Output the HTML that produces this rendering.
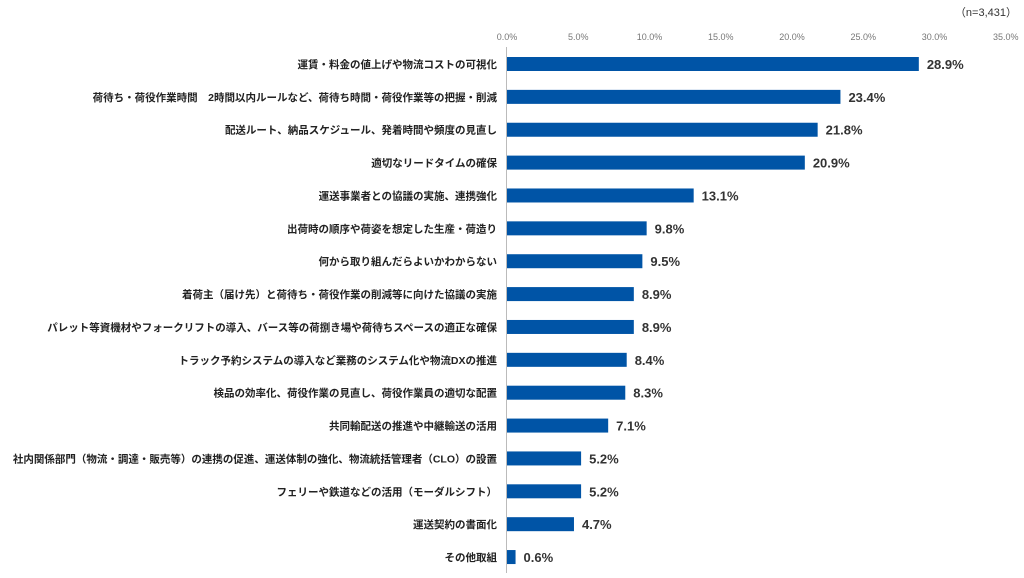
<!DOCTYPE html>
<html><head><meta charset="utf-8"><style>
body{margin:0;background:#fff;width:1024px;height:573px;overflow:hidden}
svg text{font-family:"Liberation Sans","Noto Sans CJK JP",sans-serif}
</style></head><body>
<svg id="chart" width="1024" height="573" xmlns="http://www.w3.org/2000/svg">
<text x="1017" y="16" text-anchor="end" font-size="11" fill="#333">（n=3,431）</text>
<g id="ticks"></g><g id="bars"></g>
</svg>
<script>
const categories=["運賃・料金の値上げや物流コストの可視化","荷待ち・荷役作業時間　2時間以内ルールなど、荷待ち時間・荷役作業等の把握・削減","配送ルート、納品スケジュール、発着時間や頻度の見直し","適切なリードタイムの確保","運送事業者との協議の実施、連携強化","出荷時の順序や荷姿を想定した生産・荷造り","何から取り組んだらよいかわからない","着荷主（届け先）と荷待ち・荷役作業の削減等に向けた協議の実施","パレット等資機材やフォークリフトの導入、バース等の荷捌き場や荷待ちスペースの適正な確保","トラック予約システムの導入など業務のシステム化や物流DXの推進","検品の効率化、荷役作業の見直し、荷役作業員の適切な配置","共同輸配送の推進や中継輸送の活用","社内関係部門（物流・調達・販売等）の連携の促進、運送体制の強化、物流統括管理者（CLO）の設置","フェリーや鉄道などの活用（モーダルシフト）","運送契約の書面化","その他取組"];
const values=[28.9,23.4,21.8,20.9,13.1,9.8,9.5,8.9,8.9,8.4,8.3,7.1,5.2,5.2,4.7,0.6];
const tickValues=[0,5,10,15,20,25,30,35];
const NS="http://www.w3.org/2000/svg";
const x0=507,pxPer=14.25,y0=64,step=32.87,bh=14;
const xs=v=>x0+v*pxPer, ys=i=>y0+i*step;
function mk(t,a,p){const e=document.createElementNS(NS,t);for(const k in a)e.setAttribute(k,a[k]);p.appendChild(e);return e;}
const tg=document.getElementById('ticks'),bg=document.getElementById('bars');
tickValues.forEach(v=>{const t=mk('text',{x:xs(v),y:40,'text-anchor':'middle','font-size':9,fill:'#777'},tg);t.textContent=v.toFixed(1)+'%';

});
const ax=mk('line',{x1:x0-0.5,x2:x0-0.5,y1:47,y2:573,stroke:'#bbb','stroke-width':1},tg);


categories.forEach((c,i)=>{const y=ys(i);
const l=mk('text',{x:497,y:y+4,'text-anchor':'end','font-size':10.5,'font-weight':'bold',fill:'#222'},bg);l.textContent=c;


const r=mk('rect',{x:x0,y:y-bh/2,width:values[i]*pxPer,height:bh,fill:'#0054a6'},bg);


const v=mk('text',{x:xs(values[i])+8,y:y+5,'font-size':13,'font-weight':'bold',fill:'#333'},bg);v.textContent=values[i].toFixed(1)+'%';

});
</script>
</body></html>
